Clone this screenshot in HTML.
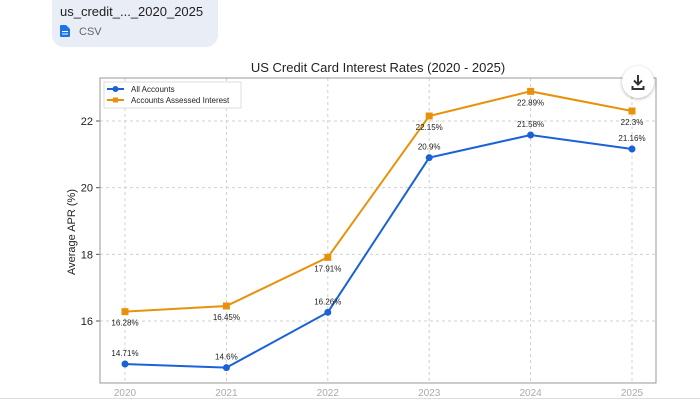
<!DOCTYPE html>
<html><head><meta charset="utf-8"><style>
body{margin:0;width:700px;height:400px;background:#fff;font-family:"Liberation Sans",sans-serif;overflow:hidden;position:relative}
.chip{position:absolute;left:52px;top:-10px;width:166px;height:57px;background:#e8edf6;border-radius:12px}
.chip .n{position:absolute;left:8px;top:14px;font-size:13px;color:#1f1f1f}
.chip .c{position:absolute;left:27px;top:36px;font-size:11px;color:#666}
</style></head><body>
<div class="chip">
<span class="n">us_credit_..._2020_2025</span>
<svg style="position:absolute;left:8px;top:35px" width="10" height="12"><path d="M0 1Q0 0 1 0H6L10 4V11Q10 12 9 12H1Q0 12 0 11Z" fill="#1a73e8"/><rect x="2" y="6" width="6" height="1" fill="#fff"/><rect x="2" y="8.5" width="6" height="1" fill="#fff"/></svg>
<span class="c">CSV</span>
</div>
<svg id="chart" width="700" height="400" style="position:absolute;left:0;top:0"></svg>
<div style="position:absolute;left:0;top:398px;width:700px;height:1px;background:#ddd"></div>
<div style="position:absolute;left:622px;top:66px;width:32px;height:32px;border-radius:50%;background:#fff;box-shadow:0 1px 3px rgba(0,0,0,.3)">
<svg width="32" height="32"><path d="M16 9V18M12 14.5L16 18.5L20 14.5M10.5 20V23H21.5V20" stroke="#333" stroke-width="2" fill="none"/></svg></div>
<script>
const years=[2020,2021,2022,2023,2024,2025];
const allAcc=[14.71,14.6,16.26,20.9,21.58,21.16];
const assessed=[16.28,16.45,17.91,22.15,22.89,22.3];
const yTicks=[16,18,20,22];
const svg=document.getElementById('chart');const NS='http://www.w3.org/2000/svg';
const L=100,R=656,T=78,B=383;
const x=y=>125+(y-2020)*(632-125)/5;
const yy=v=>321-(v-16)*(321-121)/6;
function mk(t,a,p){const e=document.createElementNS(NS,t);for(const k in a)e.setAttribute(k,a[k]);(p||svg).appendChild(e);return e;}
years.forEach(v=>{const g=mk('line',{x1:x(v),x2:x(v),y1:T,y2:B,stroke:'#d0d0d0','stroke-dasharray':'3,3'});

const t=mk('text',{x:x(v),y:B+13,'text-anchor':'middle','font-size':10,fill:'#aaa'});t.textContent=v;
});
yTicks.forEach(v=>{const g=mk('line',{x1:L,x2:R,y1:yy(v),y2:yy(v),stroke:'#d0d0d0','stroke-dasharray':'3,3'});

mk('line',{x1:L-4,x2:L,y1:yy(v),y2:yy(v),stroke:'#555'});
const t=mk('text',{x:L-7,y:yy(v)+4,'text-anchor':'end','font-size':11,fill:'#222'});t.textContent=v;
});
const fr=mk('rect',{x:L,y:T,width:R-L,height:B-T,fill:'none',stroke:'#999'});

const ti=mk('text',{x:378,y:72,'text-anchor':'middle','font-size':13,fill:'#222'});ti.textContent='US Credit Card Interest Rates (2020 - 2025)';

const yl=mk('text',{x:0,y:0,transform:'translate(75,232) rotate(-90)','text-anchor':'middle','font-size':11,fill:'#222'});yl.textContent='Average APR (%)';

function series(vals,col,sq,name,below){
const p=mk('polyline',{points:vals.map((v,i)=>x(years[i])+','+yy(v)).join(' '),fill:'none',stroke:col,'stroke-width':2});

vals.forEach((v,i)=>{const cx=x(years[i]),cy=yy(v);
const m=sq?mk('rect',{x:cx-3.5,y:cy-3.5,width:7,height:7,fill:col}):mk('circle',{cx,cy,r:3.5,fill:col});

const b=below(i);const t=mk('text',{x:cx,y:b?cy+14:cy-8,'text-anchor':'middle','font-size':8,fill:'#222'});t.textContent=v+'%';
});}
series(assessed,'#e8920c',true,'assessed',i=>true);
series(allAcc,'#1a62d6',false,'all-accounts',i=>false);
const lg=mk('g',{});
mk('rect',{x:104,y:82,width:137,height:26,fill:'#fff',stroke:'#ddd'},lg);
mk('line',{x1:107,x2:124,y1:89,y2:89,stroke:'#1a62d6','stroke-width':2},lg);mk('circle',{cx:115.5,cy:89,r:3,fill:'#1a62d6'},lg);
mk('line',{x1:107,x2:124,y1:100,y2:100,stroke:'#e8920c','stroke-width':2},lg);mk('rect',{x:113,y:97.5,width:5,height:5,fill:'#e8920c'},lg);
let t1=mk('text',{x:131,y:92,'font-size':8,fill:'#222'},lg);t1.textContent='All Accounts';
let t2=mk('text',{x:131,y:103,'font-size':8,fill:'#222'},lg);t2.textContent='Accounts Assessed Interest';
</script>
</body></html>
